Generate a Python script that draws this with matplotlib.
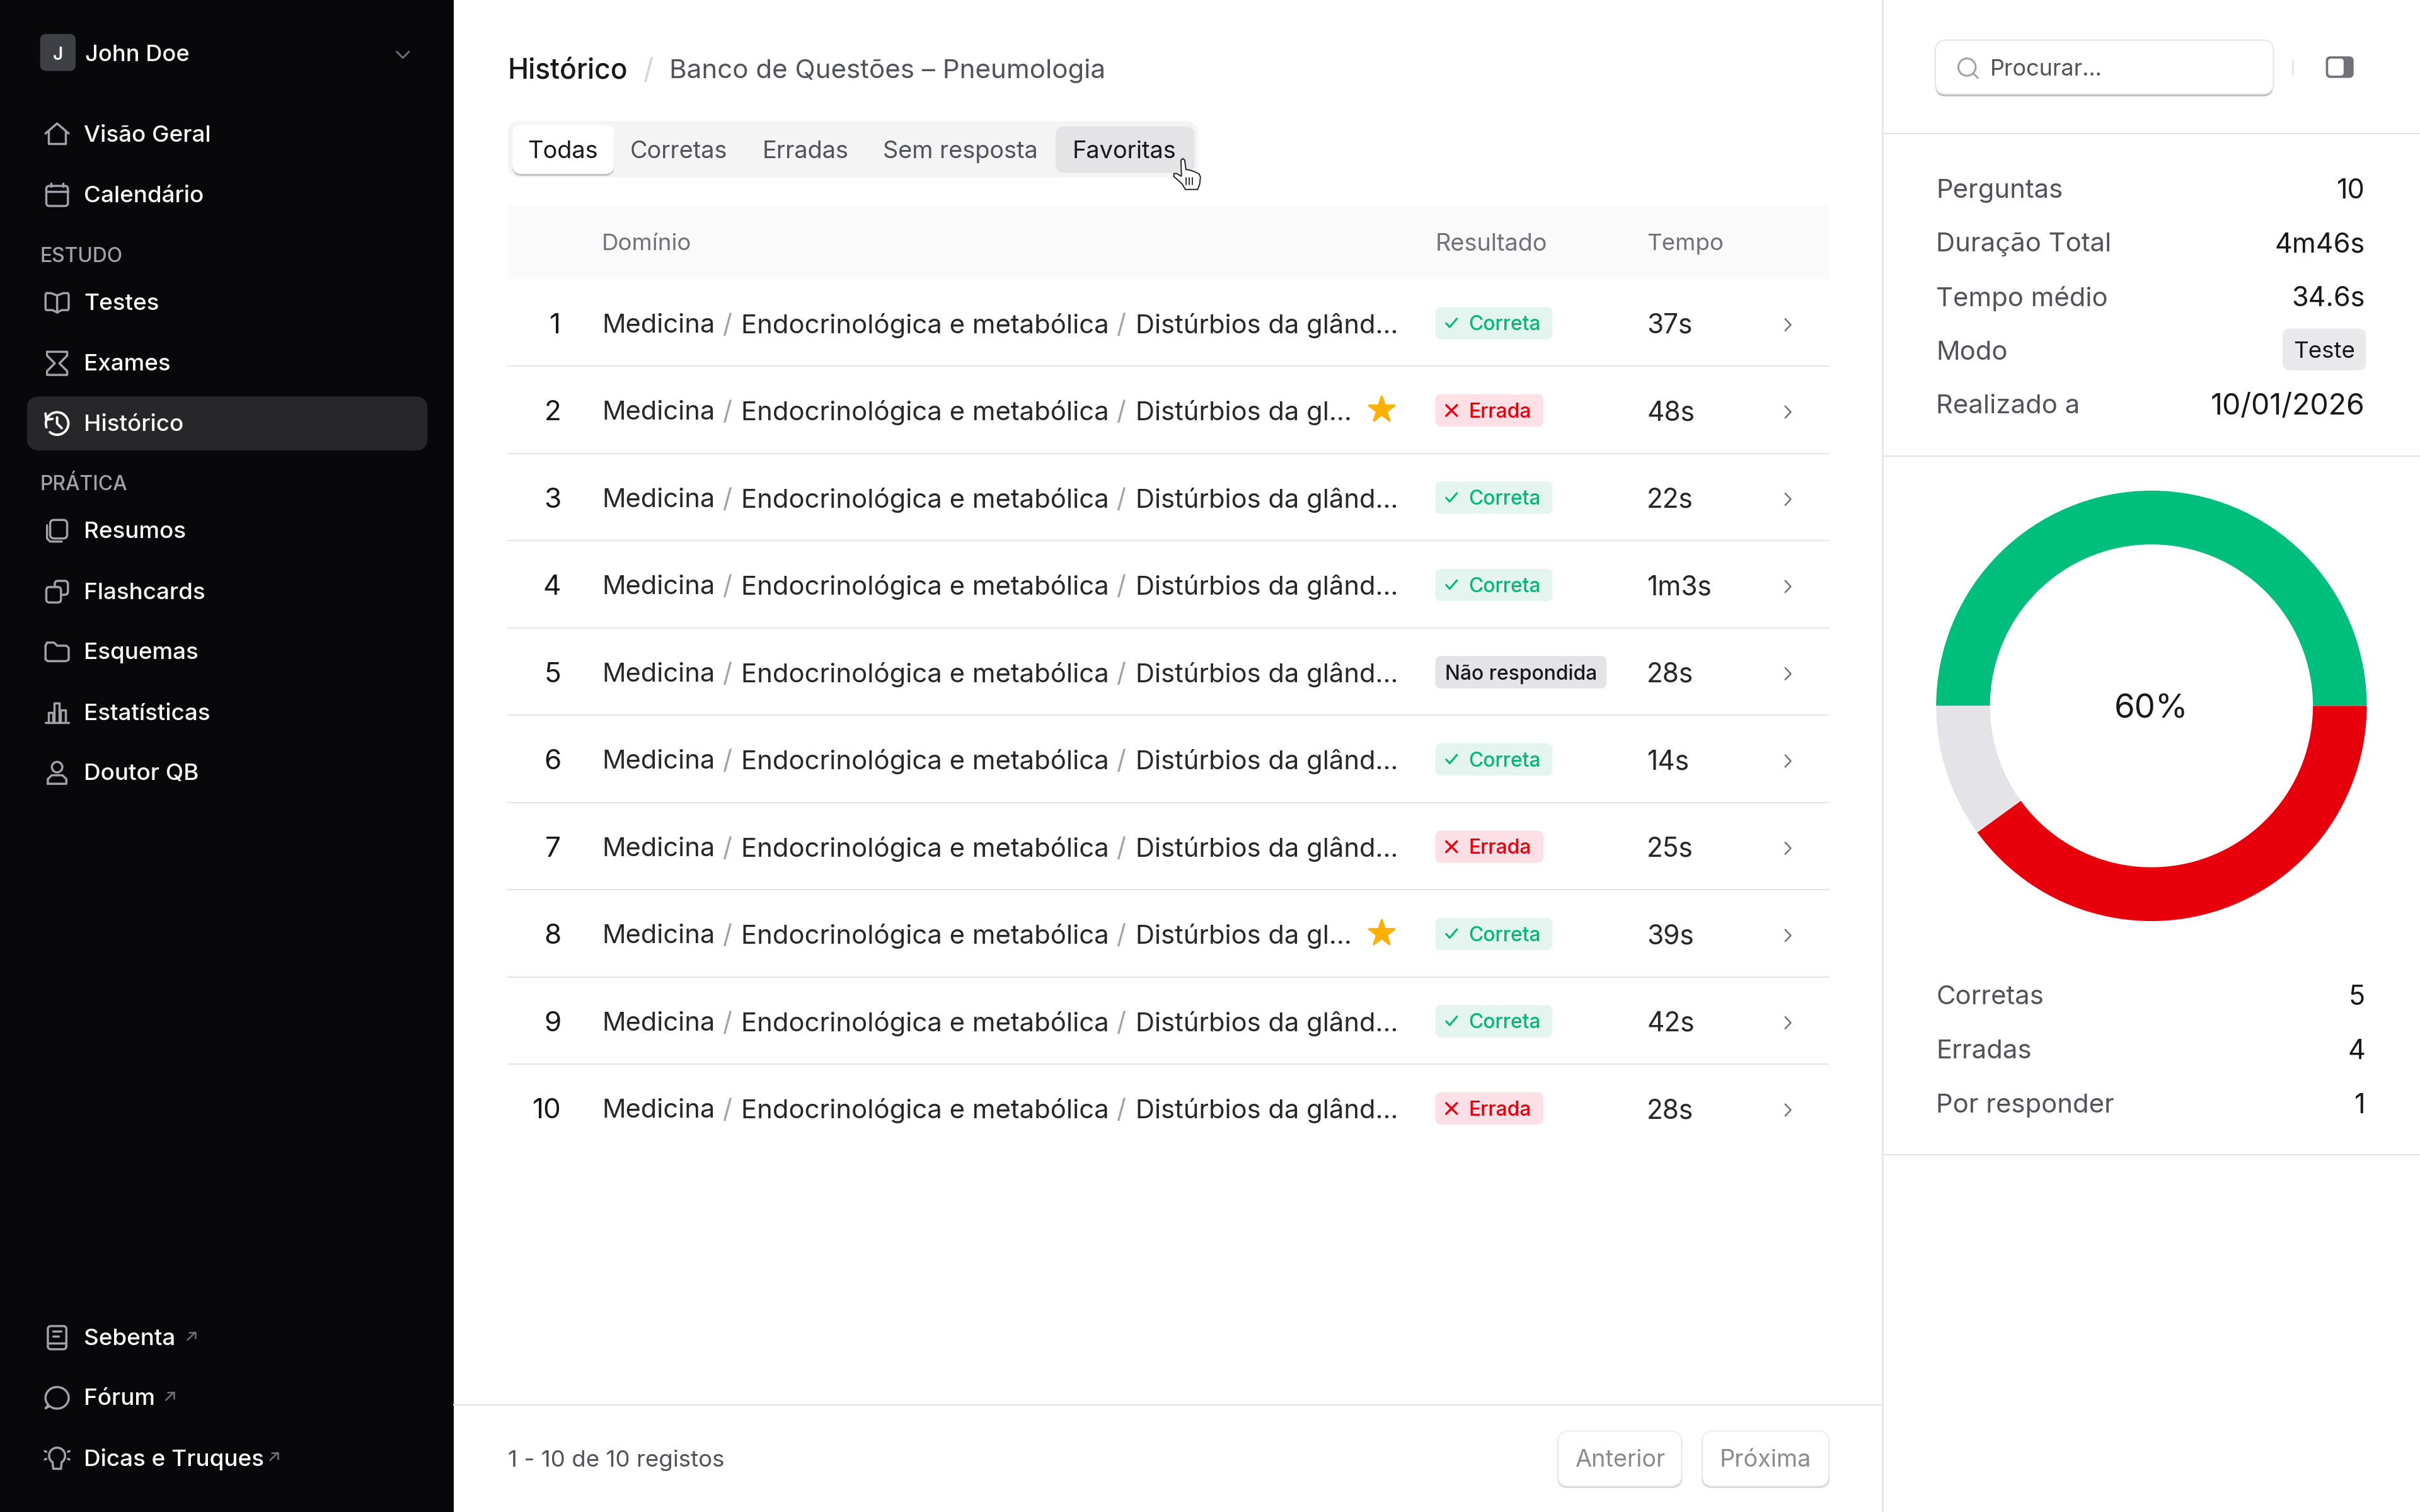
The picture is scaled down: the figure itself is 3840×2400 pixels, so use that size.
import numpy as np
import matplotlib
matplotlib.use("Agg")
import matplotlib.pyplot as plt
from matplotlib.patches import FancyBboxPatch, Rectangle, Circle, Polygon
from matplotlib.lines import Line2D

plt.rcParams['font.family'] = ['Inter', 'DejaVu Sans']

# ---------- data ----------
user_name = "John Doe"
nav_top = ["Visão Geral", "Calendário"]
nav_study_title = "ESTUDO"
nav_study = ["Testes", "Exames", "Histórico"]
nav_practice_title = "PRÁTICA"
nav_practice = ["Resumos", "Flashcards", "Esquemas", "Estatísticas", "Doutor QB"]
nav_bottom = ["Sebenta", "Fórum", "Dicas e Truques"]
tabs = ["Todas", "Corretas", "Erradas", "Sem resposta", "Favoritas"]
headers = ["Domínio", "Resultado", "Tempo"]
row_ids = ["1", "2", "3", "4", "5", "6", "7", "8", "9", "10"]
domain_a = "Medicina"
domain_b = "Endocrinológica e metabólica"
domain_long = "Distúrbios da glând…"
domain_short = "Distúrbios da gl…"
favourites = [False, True, False, False, False, False, False, True, False, False]
results = ["Correta", "Errada", "Correta", "Correta", "Não respondida",
           "Correta", "Errada", "Correta", "Correta", "Errada"]
times = ["37s", "48s", "22s", "1m3s", "28s", "14s", "25s", "39s", "42s", "28s"]
stat_labels = ["Perguntas", "Duração Total", "Tempo médio", "Modo", "Realizado a"]
stat_values = ["10", "4m46s", "34.6s", "Teste", "10/01/2026"]
donut_labels = ["Corretas", "Erradas", "Por responder"]
donut_values = [5, 4, 1]
donut_colors = ["#00BF7D", "#E7000B", "#E3E3E8"]
donut_center = "60%"
footer_text = "1 - 10 de 10 registos"

# ---------- canvas (1568 x 980 layout units) ----------
W, H = 1568, 980
K = 3840 / W * 72 / 200
fig = plt.figure(figsize=(19.2, 12), dpi=200, facecolor="white")
ax = fig.add_axes([0, 0, 1, 1])
ax.set_xlim(0, W); ax.set_ylim(H, 0); ax.axis("off")

FG = "#18181B"; MUTED = "#52525B"; LINE = "#E4E4E7"; ICON = "#A1A1AA"; SB = "#08080B"

def T(x, y, s, px=16, c=FG, w=400, ha="left", **kw):
    return ax.text(x, y - 0.6, s, fontsize=px * K, color=c, fontweight=w, ha=ha,
                   va="center_baseline", **kw)

def R(x0, y0, x1, y1, fc, r=0, ec="none", lw=0, z=1):
    if r:
        p = FancyBboxPatch((x0 + r, y0 + r), x1 - x0 - 2 * r, y1 - y0 - 2 * r,
                           boxstyle=f"round,pad={r},rounding_size={r}",
                           fc=fc, ec=ec, lw=lw, zorder=z, mutation_aspect=1)
    else:
        p = Rectangle((x0, y0), x1 - x0, y1 - y0, fc=fc, ec=ec, lw=lw, zorder=z)
    ax.add_patch(p)
    return p

def L(cx, cy, pts, c=ICON, lw=1.25, z=4):
    a = np.array(pts, float)
    ax.add_line(Line2D(cx + a[:, 0], cy + a[:, 1], color=c, lw=lw, zorder=z,
                       solid_capstyle="round", solid_joinstyle="round"))

def ring(cx, cy, r, c=ICON, lw=1.25, z=4):
    ax.add_patch(Circle((cx, cy), r, fc="none", ec=c, lw=lw, zorder=z))

# ---------- icons ----------
def ic_home(x, y, c=ICON):
    L(x, y, [(-7.5, -0.5), (0, -7), (7.5, -0.5)], c)
    L(x, y, [(-5.5, -2), (-5.5, 6), (5.5, 6), (5.5, -2)], c)
def ic_cal(x, y, c=ICON):
    R(x - 7, y - 6, x + 7, y + 7, "none", r=2, ec=c, lw=1.25, z=4)
    L(x, y, [(-7, -2.5), (7, -2.5)], c)
    L(x, y, [(-4, -7.5), (-4, -5.5)], c); L(x, y, [(4, -7.5), (4, -5.5)], c)
def ic_book(x, y, c=ICON):
    L(x, y, [(0, -4.5), (-4, -6), (-7, -6), (-7.5, -5), (-7.5, 4), (-7, 5), (-3, 5), (0, 6.5), (3, 5), (7, 5), (7.5, 4), (7.5, -5), (7, -6), (4, -6), (0, -4.5), (0, 6.5)], c)
def ic_glass(x, y, c=ICON):
    L(x, y, [(-6.5, -7.5), (6.5, -7.5), (6.5, -5), (1.5, 0), (6.5, 5), (6.5, 7.5), (-6.5, 7.5), (-6.5, 5), (-1.5, 0), (-6.5, -5), (-6.5, -7.5)], c)
def ic_hist(x, y, c="#FAFAFA"):
    th = np.radians(np.linspace(-200, 130, 40))
    L(x, y, np.c_[7.3 * np.cos(th), 7.3 * np.sin(th)], c, lw=1.4)
    L(x, y, [(-7.5, -6.5), (-7, -2.5), (-3, -3)], c, lw=1.4)
    L(x, y, [(0, -4), (0, 0), (3, 3)], c, lw=1.4)
def ic_copy(x, y, c=ICON):
    R(x - 4.5, y - 7, x + 6.5, y + 5, "none", r=2.5, ec=c, lw=1.25, z=4)
    L(x, y, [(-6.5, -3.5), (-6.5, 5), (-4.5, 7), (3, 7)], c)
def ic_cards(x, y, c=ICON):
    R(x - 1.5, y - 7, x + 7, y + 2, "none", r=2, ec=c, lw=1.25, z=4)
    R(x - 7, y - 3, x + 2.5, y + 7, SB, r=2, ec=c, lw=1.25, z=4)
def ic_folder(x, y, c=ICON):
    L(x, y, [(-7.5, -4), (-6.5, -6), (-2, -6), (0, -4), (6, -4), (7.5, -2.5), (7.5, 5), (6, 6), (-6, 6), (-7.5, 5), (-7.5, -4)], c)
def ic_bars(x, y, c=ICON):
    L(x, y, [(-7.5, 6.5), (7.5, 6.5)], c)
    L(x, y, [(-5.5, 6.5), (-5.5, 0), (-2.5, 0), (-2.5, 6.5)], c)
    L(x, y, [(-2, 6.5), (-2, -6.5), (1.5, -6.5), (1.5, 6.5)], c)
    L(x, y, [(2, 6.5), (2, -2), (5.5, -2), (5.5, 6.5)], c)
def ic_user(x, y, c=ICON):
    ring(x, y - 3.8, 3.4, c)
    L(x, y, [(-6, 7), (-6, 4), (-3.5, 1.5), (3.5, 1.5), (6, 4), (6, 7), (-6, 7)], c)
def ic_note(x, y, c=ICON):
    R(x - 6, y - 7.5, x + 6, y + 7.5, "none", r=2, ec=c, lw=1.25, z=4)
    L(x, y, [(-6, 3.5), (6, 3.5)], c)
    L(x, y, [(-2.5, -4), (2.5, -4)], c); L(x, y, [(-2.5, -1), (1, -1)], c)
def ic_chat(x, y, c=ICON):
    th = np.radians(np.linspace(140, 490, 60))
    L(x, y, np.r_[np.c_[7.5 * np.cos(th), 7 * np.sin(th)], [[-7.5, 6.8], [-5.7, 4.5]]], c)
def ic_bulb(x, y, c=ICON):
    th = np.radians(np.linspace(130, 410, 40))
    L(x, y - 1.5, np.c_[5.2 * np.cos(th), 5.2 * np.sin(th)], c)
    L(x, y, [(-3, 2.5), (-2.5, 7), (2.5, 7), (3, 2.5)], c)
    for sx in (-1, 1):
        L(x, y, [(sx * 7, -4), (sx * 8, -4.5)], c); L(x, y, [(sx * 7, 0.5), (sx * 8, 1)], c)
def arrow_out(x, y):
    L(x, y, [(-2.5, 2.5), (2.5, -2.5)], "#71717A", lw=0.9)
    L(x, y, [(-1.5, -2.5), (2.5, -2.5), (2.5, 1.5)], "#71717A", lw=0.9)

# ---------- sidebar ----------
NAV_PX = 15.05
R(0, 0, 294, H, SB, z=0)
R(26, 22, 49, 46, "#3F3F46", r=4, z=2)
T(37.5, 35.1, user_name[0], 11.5, "#FAFAFA", 600, ha="center", zorder=5)
T(55, 35.1, user_name, 14.8, "#FAFAFA", 500, zorder=5)
L(261, 35.5, [(-4, -2), (0, 2), (4, -2)], "#71717A", lw=1)

def nav(y, s, icon, c="#FAFAFA"):
    T(54.5, y, s, NAV_PX, c, 500, zorder=5)
    icon(37, y)

for y, s, i in zip([87, 126.5], nav_top, [ic_home, ic_cal]):
    nav(y, s, i)
T(26, 165.4, nav_study_title, 13, ICON, 500, zorder=5)
R(17.5, 257, 277, 292, "#27272A", r=8, z=2)
for y, s, i in zip([196, 235.5, 274.5], nav_study, [ic_book, ic_glass, ic_hist]):
    nav(y, s, i)
T(26, 313.4, nav_practice_title, 13, ICON, 500, zorder=5)
for y, s, i in zip([344, 383.5, 422.5, 462, 501], nav_practice, [ic_copy, ic_cards, ic_folder, ic_bars, ic_user]):
    nav(y, s, i)
for y, s, i, ax_x in zip([867, 906, 945], nav_bottom, [ic_note, ic_chat, ic_bulb], [124, 110, 177.5]):
    nav(y, s, i)
    arrow_out(ax_x, y - 1)

# ---------- main header ----------
T(329, 44.8, "Histórico", 18.1, FG, 500)
T(417, 44.8, "/", 18.5, "#D4D4D8", 400)
T(433.5, 44.8, "Banco de Questões – Pneumologia", 17.2, MUTED, 400)

# ---------- tabs ----------
R(329, 78.5, 776, 115, "#F4F4F5", r=8, z=1)
R(684, 82, 774, 112, "#E4E4E7", r=6, z=2)
R(332, 82, 398, 114, "#C4C4C8", r=6, z=2)
R(332, 81, 398, 112.7, "white", r=6, z=3)
tab_x = [364.5, 439.7, 522, 622.3, 728.5]
tab_col = [FG, MUTED, MUTED, MUTED, FG]
for x, s, c in zip(tab_x, tabs, tab_col):
    T(x, 97.5, s, 15.5, c, 400, ha="center", zorder=5)
# cursor
cur = np.array([(-3.8, -9.5), (-2.6, -10.5), (-1.4, -9.5), (-0.6, -3.5), (2, -3), (5, -2),
                (8, -0.5), (8.8, 1.5), (8.3, 6), (7, 9.5), (-1, 9.5), (-3, 6),
                (-8.5, 1), (-8.3, -0.8), (-6.5, -0.8), (-3.5, 1)], float)
ax.add_patch(Polygon(cur + [769, 113.3], closed=True, fc="white", ec="#222222", lw=0.7, zorder=7))
for dx in (-0.7, 1.5, 3.7):
    L(769 + dx, 117.5, [(0, -2.3), (0, 2.3)], "#222222", lw=0.65, z=8)

# ---------- table ----------
R(329, 133, 1185, 181, "#FAFAFA", z=0)
for x, s, p in zip([390, 930, 1067], headers, [15, 15.5, 15]):
    T(x, 157.5, s, p, "#71717A", 400)

row_h = 56.55
row_y0 = 210
badge_style = {"Correta": ("#E3F5EE", "#00B87A", 1006),
               "Errada": ("#FDE0E6", "#E7000B", 1000),
               "Não respondida": ("#E4E4E7", FG, 1041)}
for i, n in enumerate(row_ids):
    y = row_y0 + i * row_h
    if i < len(row_ids) - 1:
        ax.plot([329, 1185], [y + 27.3, y + 27.3], color=LINE, lw=0.7, zorder=1)
    T(363.5, y, n, 18, FG, 400, ha="right")
    T(390, y, domain_a, 17, "#27272A", 400)
    T(468, y, "/", 17, "#A1A1AA", 400)
    T(480, y, domain_b, 17.1, "#27272A", 400)
    T(723, y, "/", 17, "#A1A1AA", 400)
    T(735.7, y, domain_short if favourites[i] else domain_long, 17, "#27272A", 400)
    if favourites[i]:
        ax.plot([895], [y - 1], marker="*", ms=17 * K * 1.05, color="#FFB000", mec="#FFB000", zorder=4)
    bg, fg, x1 = badge_style[results[i]]
    R(930, y - 11, x1, y + 10, bg, r=4, z=2)
    r_ = results[i]
    if r_ == "Correta":
        L(940.5, y - 0.5, [(-3.5, 0), (-1.2, 2.5), (3.5, -3)], fg, lw=1.1)
        T(951.5, y - 0.2, r_, 13, fg, 500, zorder=5)
    elif r_ == "Errada":
        L(940.5, y - 0.5, [(-3.5, -3.5), (3.5, 3.5)], fg, lw=1.2)
        L(940.5, y - 0.5, [(-3.5, 3.5), (3.5, -3.5)], fg, lw=1.2)
        T(951.5, y - 0.2, r_, 13, fg, 500, zorder=5)
    else:
        T(936.5, y - 0.2, r_, 13, fg, 500, zorder=5)
    T(1067, y, times[i], 17.3, "#27272A", 400)
    L(1158.5, y + 0.5, [(-1.8, -3.8), (1.8, 0), (-1.8, 3.8)], "#71717A", lw=0.9)

# ---------- footer ----------
ax.plot([294, 1219], [910.5, 910.5], color=LINE, lw=0.8)
T(329, 945.5, footer_text, 15, MUTED, 400)
for x0, x1, s in [(1009, 1090, "Anterior"), (1102.5, 1185.5, "Próxima")]:
    R(x0, 928, x1, 964.5, "#D8D8DB", r=7, z=1)
    R(x0 + .5, 927.5, x1 - .5, 963.2, "white", r=7, ec="#EBEBED", lw=0.6, z=2)
    T((x0 + x1) / 2, 945.5, s, 15.5, "#8A8A90", 400, ha="center", zorder=5)

# ---------- right panel ----------
ax.plot([1219.5, 1219.5], [0, H], color=LINE, lw=0.9)
for y in (86.5, 295.5, 748.5):
    ax.plot([1220, W], [y, y], color=LINE, lw=0.8)
R(1254, 27, 1473, 62.5, "#BDBDC1", r=7, z=1)
R(1254, 26, 1473, 61, "white", r=7, ec="#E4E4E7", lw=0.7, z=2)
ring(1274.5, 43.5, 5.6, ICON, 1.1)
L(1278.5, 47.5, [(0, 0), (3, 3)], ICON, lw=1.1)
T(1289.5, 44.3, "Procurar...", 14.7, MUTED, 400, zorder=5)
ax.plot([1485.5, 1485.5], [39, 48], color=LINE, lw=0.9)
R(1507, 36.5, 1525, 50.5, "#71717A", r=3, z=3)
R(1508.5, 38, 1518.5, 49, "white", r=1.8, z=4)

stat_y = [122.5, 157.5, 192.5, 227.5, 262.5]
for y, a, b in zip(stat_y, stat_labels, stat_values):
    T(1254.5, y, a, 17.1, MUTED, 400)
    if a == "Modo":
        R(1479, 213, 1533, 240, "#E9E9EB", r=5, z=2)
        T(1506, 227.2, b, 15, FG, 400, ha="center", zorder=5)
    elif b == "10/01/2026":
        T(1532.5, y, b, 19, FG, 400, ha="right")
    else:
        T(1532.5, y, b, 17.6, FG, 400, ha="right")

# ---------- donut ----------
cx, cy, rr = 1394, 457.5, 139.5
dax = fig.add_axes([(cx - rr) / W, (H - cy - rr) / H, 2 * rr / W, 2 * rr / H])
dax.pie(donut_values, colors=donut_colors, startangle=180, counterclock=False,
        radius=1, wedgeprops=dict(width=0.25, linewidth=0))
dax.set_xlim(-1, 1); dax.set_ylim(-1, 1); dax.axis("off")
dax.patch.set_alpha(0)
T(1394, 458, donut_center, 21.5, FG, 400, ha="center", zorder=6)

for y, a, v in zip([645.5, 680.5, 715.5], donut_labels, donut_values):
    T(1254.5, y, a, 17.1, MUTED, 400)
    T(1532.5, y, str(v), 17.6, FG, 400, ha="right")

fig.savefig("out.png", dpi=200, facecolor="white")
